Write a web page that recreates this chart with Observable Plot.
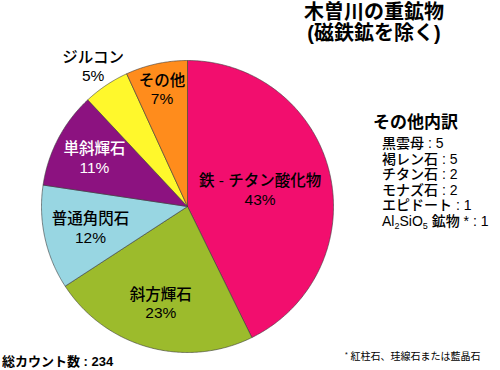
<!DOCTYPE html>
<html><head><meta charset="utf-8">
<script src="https://cdn.jsdelivr.net/npm/d3@7"></script>
<script src="https://cdn.jsdelivr.net/npm/@observablehq/plot@0.6"></script>
<style>
body{margin:0;background:#fff;}
#chart{position:relative;width:500px;height:370px;font-family:"Liberation Sans","Noto Sans CJK JP",sans-serif;color:#000;overflow:hidden;}
#chart svg{position:absolute;left:0;top:0;}
.ov{position:absolute;white-space:nowrap;}
#title{left:274px;top:2px;width:200px;text-align:center;font-size:20px;line-height:21px;font-weight:700;}
#lhead{left:373px;top:113px;font-size:17px;line-height:20px;font-weight:700;}
#litems{left:382px;top:136px;font-size:14px;line-height:15.6px;font-weight:500;}
#litems sub{font-size:9px;vertical-align:-3px;line-height:0;}
#total{left:2px;top:354px;font-size:13px;line-height:16px;font-weight:700;}
#note{left:345px;top:350px;font-size:10px;line-height:14px;font-weight:400;}
#note sup{font-size:7px;vertical-align:3px;line-height:0;}
</style></head><body><div id="chart"></div>
<script>
// ---- data ----
const minerals = ["鉄 - チタン酸化物", "斜方輝石", "普通角閃石", "単斜輝石", "ジルコン", "その他"];
const counts = [100, 54, 27, 25, 12, 16];
const percentLabels = ["43%", "23%", "12%", "11%", "5%", "7%"];
const otherNames = ["黒雲母", "褐レン石", "チタン石", "モナズ石", "エピドート", "Al<sub>2</sub>SiO<sub>5</sub> 鉱物 *"];
const otherCounts = [5, 5, 2, 2, 1, 1];
const totalCount = 234;
const titleLines = ["木曽川の重鉱物", "(磁鉄鉱を除く)"];
const otherHeading = "その他内訳";
const footnote = "紅柱石、珪線石または藍晶石";

// ---- styles / layout ----
const colors = ["#f20e6e", "#9cbb2c", "#98d6e2", "#8c1280", "#fff82c", "#ff8c1c"];
const textColors = ["#000", "#000", "#000", "#fff", "#000", "#000"];
const labelRadius = [0.51, 0.69, 0.68, 0.72, 1.16, 0.82];
const cx = 187, cy = 206, R = 146;

const arcs = d3.pie().sort(null).value(d => d)(counts);
const polyPts = [];
arcs.forEach((a, i) => {
  const name = minerals[i];
  polyPts.push({name, x: cx, y: cy});
  const n = Math.max(2, Math.ceil((a.endAngle - a.startAngle) / (Math.PI / 360)));
  for (let k = 0; k <= n; k++) {
    const t = a.startAngle + (a.endAngle - a.startAngle) * k / n;
    polyPts.push({name, x: cx + R * Math.sin(t), y: cy - R * Math.cos(t)});
  }
  polyPts.push({name, x: cx, y: cy});
});
const labels = arcs.map((a, i) => {
  const m = (a.startAngle + a.endAngle) / 2;
  const r = R * labelRadius[i];
  return {text: minerals[i] + "\n" + percentLabels[i], x: cx + r * Math.sin(m), y: cy - r * Math.cos(m), c: textColors[i]};
});

const svg = Plot.plot({
  width: 500, height: 370, margin: 0,
  x: {domain: [0, 500], range: [0, 500], axis: null},
  y: {domain: [0, 370], range: [0, 370], axis: null},
  color: {domain: minerals, range: colors},
  style: {background: "transparent", fontFamily: "'Liberation Sans', 'Noto Sans CJK JP', sans-serif"},
  marks: [
    Plot.line(polyPts, {x: "x", y: "y", z: "name", fill: "name", stroke: "#3a3a3a", strokeWidth: 0.7, strokeOpacity: 0.85, strokeLinejoin: "round"}),
    Plot.text(labels, {x: "x", y: "y", text: "text", fill: "c", fontSize: 15.5, fontWeight: 500, lineHeight: 1.17})
  ]
});
const chart = document.getElementById("chart");
chart.appendChild(svg);

function addDiv(id, html) {
  const d = document.createElement("div");
  d.className = "ov"; d.id = id; d.innerHTML = html;
  chart.appendChild(d);
}
addDiv("title", titleLines.join("<br>"));
addDiv("lhead", otherHeading);
addDiv("litems", otherNames.map((n, i) => `${n} : ${otherCounts[i]}`).join("<br>"));
addDiv("total", `総カウント数 : ${totalCount}`);
addDiv("note", `<sup>*</sup> ${footnote}`);
</script></body></html>
